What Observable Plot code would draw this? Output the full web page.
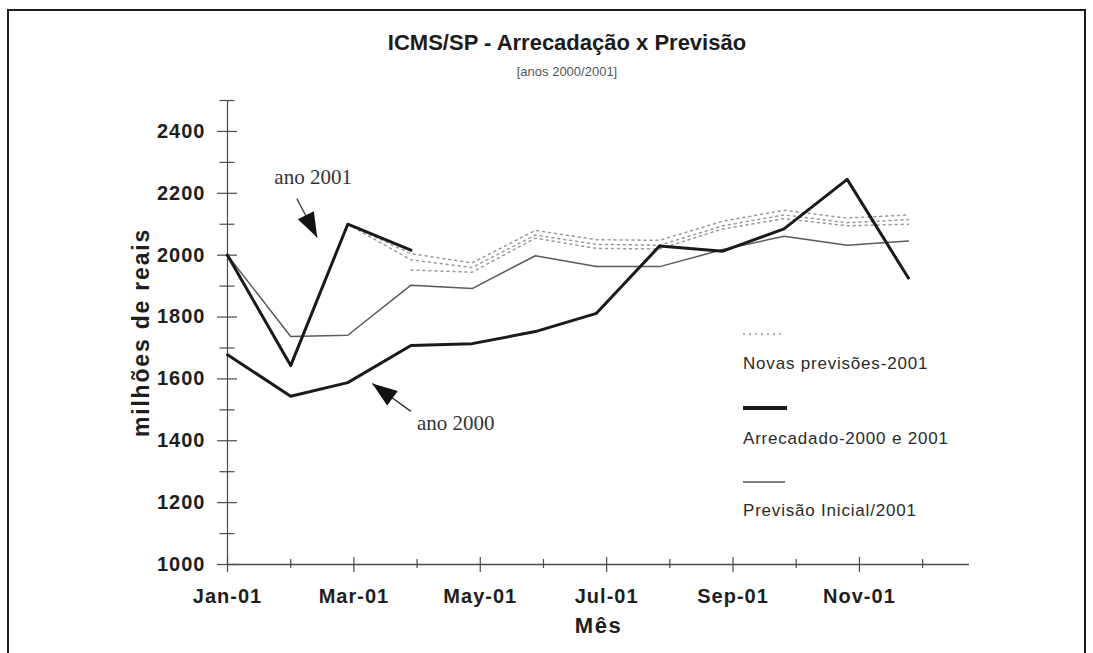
<!DOCTYPE html>
<html>
<head>
<meta charset="utf-8">
<script src="https://cdn.jsdelivr.net/npm/d3@7"></script>
<script src="https://cdn.jsdelivr.net/npm/@observablehq/plot@0.6"></script>
<style>
  html, body { margin: 0; padding: 0; background: #fff; }
  #wrap { position: relative; width: 1093px; height: 653px; overflow: hidden; font-family: "Liberation Sans", Arial, sans-serif; color: #222; }
  #frame { position: absolute; left: 7px; top: 9px; width: 1079px; height: 700px; border: 2.5px solid #1e1e1e; box-sizing: border-box; }
  #chart { position: absolute; left: 0; top: 0; }
  #title { position: absolute; left: 317px; width: 500px; top: 30px; text-align: center; font-size: 22px; font-weight: bold; color: #1c1c1c; }
  #subtitle { position: absolute; left: 417px; width: 300px; top: 64px; text-align: center; font-size: 13px; color: #555; }
  .leg { position: absolute; left: 743px; font-size: 17px; letter-spacing: 0.8px; color: #2a2a2a; white-space: nowrap; }
  .sample { position: absolute; left: 743px; }
  #chart g[aria-label="y-axis tick label"] text,
  #chart g[aria-label="x-axis tick label"] text { letter-spacing: 1px; }
  #chart text[aria-label="xtitle"] { letter-spacing: 1.5px; }
  #chart text[aria-label="ytitle"] { letter-spacing: 1.8px; }
</style>
</head>
<body>
<div id="wrap">
  <div id="frame"></div>
  <div id="chart"></div>
  <div id="title">ICMS/SP - Arrecadação x Previsão</div>
  <div id="subtitle">[anos 2000/2001]</div>
  <svg class="sample" style="top:330px" width="44" height="8"><line x1="0" y1="4" x2="42" y2="4" stroke="#999" stroke-width="1.5" stroke-dasharray="2,4"/></svg>
  <div class="leg" style="top:354px">Novas previsões-2001</div>
  <svg class="sample" style="top:403px" width="46" height="10"><line x1="0" y1="5" x2="44" y2="5" stroke="#1a1a1a" stroke-width="4"/></svg>
  <div class="leg" style="top:429px">Arrecadado-2000 e 2001</div>
  <svg class="sample" style="top:478px" width="46" height="8"><line x1="0" y1="4" x2="42" y2="4" stroke="#555" stroke-width="1.6"/></svg>
  <div class="leg" style="top:501px">Previsão Inicial/2001</div>
</div>
<script>
// ---- data ----
const months = ["2001-01-01","2001-02-01","2001-03-01","2001-04-01","2001-05-01","2001-06-01",
                "2001-07-01","2001-08-01","2001-09-01","2001-10-01","2001-11-01","2001-12-01"];
const arrecadado2000 = [1678, 1544, 1588, 1708, 1714, 1753, 1812, 2030, 2013, 2085, 2245, 1926];
const arrecadado2001 = [2000, 1643, 2100, 2016];
const previsaoInicial = [2000, 1737, 1741, 1903, 1892, 1998, 1963, 1963, 2018, 2061, 2032, 2046];
const novasPrevisoesA = [null, null, 2100, 2005, 1975, 2080, 2050, 2048, 2110, 2145, 2120, 2130];
const novasPrevisoesB = [null, null, 2100, 1985, 1960, 2065, 2035, 2032, 2095, 2130, 2105, 2115];
const novasPrevisoesC = [null, null, null, 1952, 1945, 2055, 2022, 2020, 2085, 2118, 2095, 2100];

// axis ticks (major unit of 31 days, as in the original)
const xMajorTicks = ["2001-01-01","2001-03-04","2001-05-05","2001-07-06","2001-09-06","2001-11-07"];
const xMinorTicks = ["2001-02-01","2001-04-04","2001-06-05","2001-08-06","2001-10-07","2001-12-08"];
const xDomain = ["2001-01-01","2001-12-31"];
const yMajorTicks = [1000, 1200, 1400, 1600, 1800, 2000, 2200, 2400];
const yMinorTicks = [1100, 1300, 1500, 1700, 1900, 2100, 2300, 2500];
const yDomain = [1000, 2500];

// annotations
const annoText = [
  {label: "ano 2001", date: "2001-02-12", value: 2251},
  {label: "ano 2000", date: "2001-04-23", value: 1456}
];
const arrow2001 = [{date1: "2001-02-04", value1: 2183, date2: "2001-02-14", value2: 2057}];
const arrow2000 = [{date1: "2001-04-01", value1: 1495, date2: "2001-03-13", value2: 1585}];

// ---- build ----
const D = s => new Date(s + "T00:00:00Z");
const rows = arr => arr.map((v, i) => ({date: D(months[i]), value: v})).filter(d => d.value != null);
const arrowRows = a => a.map(d => ({x1: D(d.date1), y1: d.value1, x2: D(d.date2), y2: d.value2}));

const head = {
  draw(ctx) {
    ctx.moveTo(0, 0);
    ctx.lineTo(9, 25);
    ctx.lineTo(-9, 25);
    ctx.closePath();
  }
};

const axisStroke = "#4a4a4a";
const chart = Plot.plot({
  width: 1093,
  height: 653,
  marginLeft: 227,
  marginRight: 124,
  marginTop: 100,
  marginBottom: 89,
  style: {fontFamily: "'Liberation Sans', Arial, sans-serif", background: "transparent", color: "#222"},
  x: {type: "utc", domain: xDomain.map(D)},
  y: {domain: yDomain},
  marks: [
    // axis lines
    Plot.ruleY([yDomain[0]], {stroke: axisStroke, strokeWidth: 1.4}),
    Plot.ruleX([D(xDomain[0])], {stroke: axisStroke, strokeWidth: 1.2}),
    // y ticks crossing the axis
    Plot.axisY({ticks: yMajorTicks, tickSize: 20, dx: 10, fill: "none", stroke: axisStroke, strokeWidth: 1.2}),
    Plot.axisY({ticks: yMinorTicks, tickSize: 15, dx: 7.5, fill: "none", stroke: axisStroke, strokeWidth: 1.2}),
    Plot.axisY({ticks: yMajorTicks, tickSize: 0, tickPadding: 22, label: null, tickFormat: d => String(d), fontSize: 20, fontWeight: "bold", fill: "#1e1e1e"}),
    // x ticks
    Plot.axisX({ticks: xMajorTicks.map(D), tickSize: 15, dy: -7, fill: "none", stroke: axisStroke, strokeWidth: 1.2}),
    Plot.axisX({ticks: xMinorTicks.map(D), tickSize: 9, dy: -5, fill: "none", stroke: axisStroke, strokeWidth: 1.2}),
    Plot.axisX({ticks: xMajorTicks.map(D), tickSize: 0, tickPadding: 24, label: null, tickFormat: d3.utcFormat("%b-%y"), fontSize: 20, fontWeight: "bold", fill: "#1e1e1e"}),
    // axis titles
    Plot.text(["Mês"], {frameAnchor: "bottom", dy: 61, lineAnchor: "middle", textAnchor: "middle", fontSize: 22, fontWeight: "bold", fill: "#1e1e1e", ariaLabel: () => "xtitle"}),
    Plot.text(["milhões de reais"], {frameAnchor: "left", dx: -86, rotate: -90, textAnchor: "middle", lineAnchor: "middle", fontSize: 23, fontWeight: "bold", fill: "#1e1e1e", ariaLabel: () => "ytitle"}),
    // series
    Plot.line(rows(novasPrevisoesA), {x: "date", y: "value", stroke: "#999", strokeWidth: 1.5, strokeDasharray: "2,4"}),
    Plot.line(rows(novasPrevisoesB), {x: "date", y: "value", stroke: "#999", strokeWidth: 1.5, strokeDasharray: "2,4"}),
    Plot.line(rows(novasPrevisoesC), {x: "date", y: "value", stroke: "#999", strokeWidth: 1.5, strokeDasharray: "2,4"}),
    Plot.line(rows(previsaoInicial), {x: "date", y: "value", stroke: "#5a5a5a", strokeWidth: 1.5}),
    Plot.line(rows(arrecadado2000), {x: "date", y: "value", stroke: "#1a1a1a", strokeWidth: 3}),
    Plot.line(rows(arrecadado2001), {x: "date", y: "value", stroke: "#1a1a1a", strokeWidth: 3}),
    // annotations
    Plot.text(annoText, {x: d => D(d.date), y: "value", text: "label", fontFamily: "'Liberation Serif', 'Times New Roman', serif", fontSize: 21, fill: "#333"}),
    Plot.link(arrowRows(arrow2001), {x1: "x1", y1: "y1", x2: "x2", y2: "y2", stroke: "#333", strokeWidth: 1.3}),
    Plot.link(arrowRows(arrow2000), {x1: "x1", y1: "y1", x2: "x2", y2: "y2", stroke: "#333", strokeWidth: 1.3}),
    Plot.dot(arrowRows(arrow2001), {x: "x2", y: "y2", symbol: head, fill: "#111", stroke: "none", rotate: 153}),
    Plot.dot(arrowRows(arrow2000), {x: "x2", y: "y2", symbol: head, fill: "#111", stroke: "none", rotate: -54})
  ]
});
document.getElementById("chart").appendChild(chart);
// widen the axis titles like the original's stretched lettering
d3.select(chart).selectAll("text").each(function() {
  const t = this.textContent;
  if (t === "milhões de reais") this.style.letterSpacing = "1.8px";
  if (t === "Mês") this.style.letterSpacing = "1.5px";
});
</script>
</body>
</html>
